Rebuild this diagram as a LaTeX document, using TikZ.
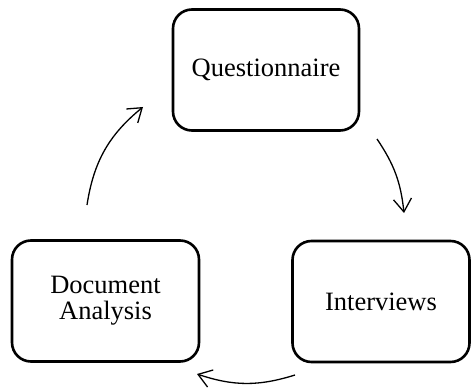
\documentclass[tikz,border=0pt]{standalone}
\usepackage{fontspec}
\setmainfont{Liberation Serif}
\usepackage{tikz}
\usetikzlibrary{arrows.meta}

\tikzset{
    stage/.style={draw=black, line width=2.6pt, rounded corners=19pt,
        minimum height=121pt, align=center,
        font=\fontsize{26.5}{26}\selectfont},
    cyc/.style={->, line width=1.3pt, bend left},
    >={Straight Barb[length=13pt, width=18pt]}
}

\begin{document}
\begin{tikzpicture}[x=1pt, y=1pt]
    \useasboundingbox (0,0) rectangle (471,389);

    \node[stage, minimum width=186pt] (quest) at (266,319) {Questionnaire};
    \node[stage, minimum width=177pt] (inter) at (381,87.5) {Interviews};
    \node[stage, minimum width=187pt] (docan) at (105.5,88) {Document\\Analysis};

    % ends of the cycle arrows
    \coordinate (qi1) at (377,250);
    \coordinate (qi2) at (404,176);
    \coordinate (id1) at (295,14);
    \coordinate (id2) at (197,15);
    \coordinate (dq1) at (87,184);
    \coordinate (dq2) at (143,282);

    \draw[cyc, bend left=14] (qi1) to (qi2);
    \draw[cyc, bend left=18] (id1) to (id2);
    \draw[cyc, bend left=21] (dq1) to (dq2);
\end{tikzpicture}
\end{document}
